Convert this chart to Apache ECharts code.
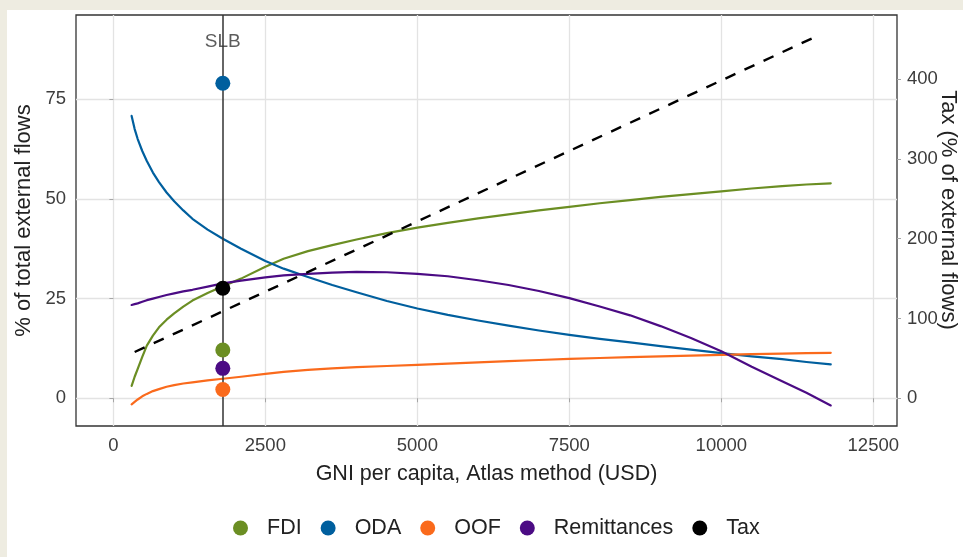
<!DOCTYPE html>
<html>
<head>
<meta charset="utf-8">
<script src="https://cdn.jsdelivr.net/npm/echarts@6/dist/echarts.min.js"></script>
<style>
  html, body { margin: 0; padding: 0; width: 963px; height: 557px; overflow: hidden; background: #eeece1; }
  #chart { position: absolute; left: 7px; top: 10px; width: 956px; height: 547px; background: #ffffff; }
</style>
</head>
<body>
<div id="chart"></div>
<script>
// Fitted shares of total external flows by GNI per capita (USD)
const gni = [300, 350, 400, 475, 550, 650, 750, 875, 1000, 1150, 1300, 1550, 1800, 2100, 2500, 2800, 3200, 3600, 4000, 4500, 5000, 5500, 6000, 6500, 7000, 7500, 8000, 8500, 9000, 9500, 10000, 10500, 11000, 11400, 11800];
const fdi = [3.1, 5.4, 7.4, 10.4, 13.2, 15.7, 17.8, 19.7, 21.3, 23.0, 24.5, 26.4, 28.1, 30.0, 33.0, 35.0, 36.9, 38.4, 39.8, 41.4, 42.8, 44.0, 45.1, 46.1, 47.1, 48.0, 48.9, 49.7, 50.5, 51.2, 51.9, 52.6, 53.2, 53.6, 53.9];
const oda = [70.8, 67.5, 65.0, 62.0, 59.5, 56.6, 54.2, 51.6, 49.4, 47.1, 45.0, 42.3, 40.0, 37.5, 34.4, 32.5, 30.4, 28.4, 26.6, 24.4, 22.5, 20.9, 19.5, 18.2, 17.0, 15.9, 14.9, 14.0, 13.1, 12.2, 11.3, 10.5, 9.8, 9.1, 8.5];
const oof = [-1.5, -0.9, -0.3, 0.5, 1.1, 1.8, 2.3, 2.9, 3.3, 3.7, 4.0, 4.5, 4.9, 5.4, 6.1, 6.6, 7.1, 7.5, 7.8, 8.1, 8.4, 8.7, 9.0, 9.3, 9.6, 9.9, 10.1, 10.3, 10.5, 10.7, 10.9, 11.05, 11.2, 11.3, 11.4];
const remittances = [23.4, 23.6, 23.8, 24.2, 24.6, 25.0, 25.4, 25.9, 26.3, 26.8, 27.2, 28.0, 28.8, 29.5, 30.3, 30.8, 31.2, 31.5, 31.7, 31.6, 31.2, 30.6, 29.6, 28.4, 26.9, 25.1, 23.0, 20.8, 18.1, 15.1, 11.8, 7.9, 4.3, 1.4, -1.8];

// Tax as % of external flows (secondary axis)
const taxGni = [350, 4400, 11600];
const tax = [58, 200.5, 455];

// Solomon Islands (SLB) observed values
const slbCode = 'SLB';
const slbGni = 1800;
const slbFlows = ['FDI', 'ODA', 'OOF', 'Remittances'];
const slbShares = [12.1, 79.0, 2.2, 7.5];
const slbTax = 138;
const slbLabelY = 89.4;

// Axis ticks
const xTicks = [0, 2500, 5000, 7500, 10000, 12500];
const yTicks = [0, 25, 50, 75];
const taxTicks = [0, 100, 200, 300, 400];

const colors = { FDI: '#6b8e23', ODA: '#005f9e', OOF: '#fa6a1c', Remittances: '#4b0b84', Tax: '#000000' };
const font = '"Liberation Sans", Arial, sans-serif';

const pair = (xs, ys) => xs.map((x, i) => [x, ys[i]]);
const curves = { FDI: fdi, ODA: oda, OOF: oof, Remittances: remittances };

const series = [];
Object.keys(curves).forEach(name => {
  series.push({
    name, type: 'line', data: pair(gni, curves[name]),
    showSymbol: false,
    lineStyle: { color: colors[name], width: 2.2, join: 'round', cap: 'round' },
    itemStyle: { color: colors[name] }, z: 3
  });
});
series.push({
  name: 'Tax', type: 'line', yAxisIndex: 1, data: pair(taxGni, tax),
  showSymbol: false,
  lineStyle: { color: '#000', width: 2.4, type: [11, 10] },
  itemStyle: { color: '#000' }, z: 3
});
// vertical reference line and country code
series.push({
  name: slbCode, type: 'scatter', data: [[slbGni, slbLabelY]],
  symbolSize: 1, itemStyle: { color: 'rgba(0,0,0,0)' },
  label: { show: true, formatter: slbCode, position: 'inside', fontSize: 19, color: '#333', fontFamily: font },
  markLine: {
    silent: true, symbol: ['none', 'none'], label: { show: false },
    lineStyle: { color: '#333', width: 1.5, type: 'solid' },
    data: [{ xAxis: slbGni }]
  },
  z: 2
});
slbFlows.forEach((name, i) => {
  series.push({
    name, type: 'scatter', data: [[slbGni, slbShares[i]]],
    symbolSize: 15, itemStyle: { color: colors[name], opacity: 1 }, z: 5
  });
});
series.push({
  name: 'Tax', type: 'scatter', yAxisIndex: 1, data: [[slbGni, slbTax]],
  symbolSize: 15, itemStyle: { color: '#000', opacity: 1 }, z: 5
});

const tickStyle = { show: true, length: 4, lineStyle: { color: '#a6a6a6', width: 1 } };
const labelStyle = { fontSize: 18.5, color: '#3d3d3d', fontFamily: font, formatter: v => String(v) };

const chart = echarts.init(document.getElementById('chart'), null, { renderer: 'canvas' });
chart.setOption({
  animation: false,
  backgroundColor: '#ffffff',
  textStyle: { fontFamily: font },
  grid: {
    left: 69, top: 5, width: 821, height: 411,
    show: true, borderColor: '#333', borderWidth: 1.3, backgroundColor: 'transparent',
    containLabel: false, outerBoundsMode: 'none'
  },
  xAxis: {
    type: 'value', min: -615, max: 12890,
    axisLine: { show: false },
    axisTick: Object.assign({ customValues: xTicks }, tickStyle),
    axisLabel: Object.assign({ customValues: xTicks, margin: 10 }, labelStyle),
    splitLine: { show: true, lineStyle: { color: '#e3e3e3', width: 1.3 } },
    name: 'GNI per capita, Atlas method (USD)', nameLocation: 'middle', nameGap: 37,
    nameTextStyle: { fontSize: 21.5, color: '#222', fontFamily: font }
  },
  yAxis: [{
    type: 'value', position: 'left', min: -6.95, max: 96.1,
    axisLine: { show: false },
    axisTick: Object.assign({ customValues: yTicks }, tickStyle),
    axisLabel: Object.assign({ customValues: yTicks, margin: 10 }, labelStyle),
    splitLine: { show: true, lineStyle: { color: '#e3e3e3', width: 1.3 } },
    name: '% of total external flows', nameLocation: 'middle', nameGap: 38,
    nameTextStyle: { fontSize: 22, color: '#222', fontFamily: font }
  }, {
    type: 'value', position: 'right', min: -34.75, max: 480.5,
    axisLine: { show: false },
    axisTick: Object.assign({ customValues: taxTicks }, tickStyle),
    axisLabel: Object.assign({ customValues: taxTicks, margin: 10 }, labelStyle),
    splitLine: { show: false }
  }],
  legend: {
    data: ['FDI', 'ODA', 'OOF', 'Remittances', 'Tax'],
    left: 221, top: 502, orient: 'horizontal',
    icon: 'circle', itemWidth: 15, itemHeight: 15, itemGap: 19,
    textStyle: { fontSize: 21.5, color: '#222', fontFamily: font, padding: [0, 0, 0, 14] },
    selectedMode: false
  },
  graphic: [{
    type: 'text', x: 941, y: 200, rotation: -Math.PI / 2,
    style: { text: 'Tax (% of external flows)', fontSize: 22, fill: '#222', font: '22px ' + font, align: 'center', verticalAlign: 'middle' }
  }],
  series
});
</script>
</body>
</html>
